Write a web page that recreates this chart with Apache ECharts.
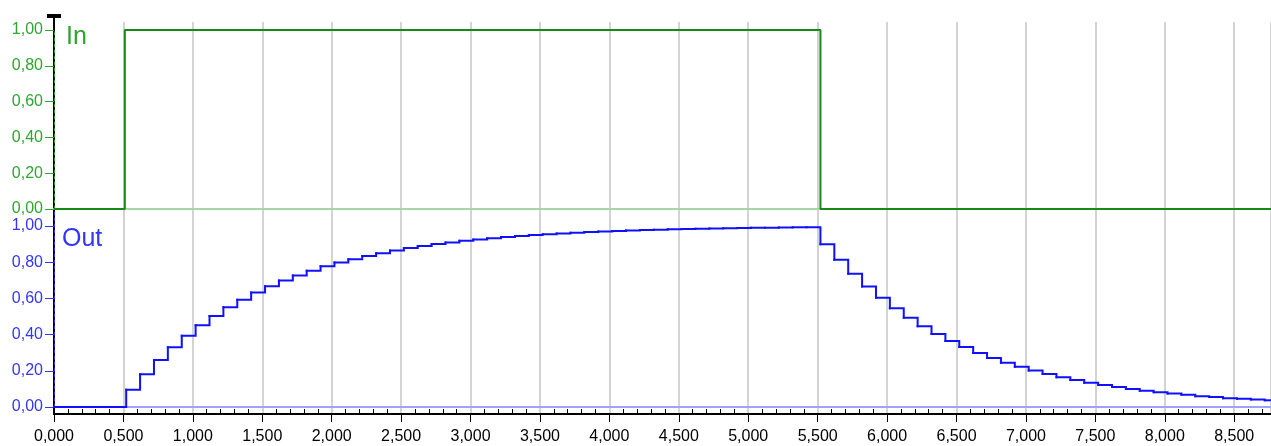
<!DOCTYPE html>
<html><head><meta charset="utf-8">
<script src="https://cdn.jsdelivr.net/npm/echarts@6/dist/echarts.min.js"></script>
<style>html,body{margin:0;padding:0;background:#fff}#c{width:1271px;height:446px}</style>
</head><body><div id="c"></div>
<script>
// ---- data ----
const xMin = 0, xMax = 8.765;
const xMajorStep = 0.5;
const xMinorStep = 0.1;
const yTickValues = [0, 0.2, 0.4, 0.6, 0.8, 1.0];
const yMinorValues = [0.1, 0.3, 0.5, 0.7, 0.9];
const panelNames = ['In', 'Out'];

// "In" step input: times where the level changes, and the levels
const inTimes = [0, 0.51, 5.52, 8.765];
const inValues = [0, 1, 0, 0];

// "Out" sampled response: first sample time and sample period
const outFirstSample = 0.52;
const outSamplePeriod = 0.1;
const outRise = [0.095,0.181,0.259,0.330,0.393,0.451,0.503,0.551,0.593,0.632,
                 0.667,0.699,0.727,0.753,0.777,0.798,0.817,0.835,0.850,0.865,
                 0.878,0.889,0.900,0.909,0.918,0.926,0.933,0.939,0.945,0.950,
                 0.955,0.959,0.963,0.967,0.970,0.973,0.975,0.978,0.980,0.982,
                 0.983,0.985,0.986,0.988,0.989,0.990,0.991,0.992,0.993,0.993];
const outFall = [0.899,0.813,0.736,0.666,0.603,0.545,0.493,0.446,0.404,0.365,
                 0.331,0.299,0.271,0.245,0.222,0.201,0.182,0.164,0.149,0.134,
                 0.122,0.110,0.100,0.090,0.082,0.074,0.067,0.060,0.055,0.049,
                 0.045,0.041,0.037];

// ---- build ----
const inData = inTimes.map((t, i) => [t, inValues[i]]);
const outSamples = outRise.concat(outFall);
const outPts = [[0, 0]].concat(
  outSamples.map((v, i) => [+(outFirstSample + i * outSamplePeriod).toFixed(3), v])
);
// each item: [t, value, next t, next value] -> one step (hold, then jump)
const outSteps = outPts.map((p, i) => {
  const n = outPts[i + 1] || [xMax, p[1]];
  return [p[0], p[1], n[0], n[1]];
});

const xMinorValues = [];
for (let i = 1; xMin + i * xMinorStep < xMax; i++) {
  if (i % 5 !== 0) xMinorValues.push(+(xMin + i * xMinorStep).toFixed(2));
}

const FONT = 'Liberation Sans';
const GREEN_LINE = '#158a15', GREEN_TEXT = '#2fa52f', GREEN_BASE = '#a6d6a6';
const BLUE_LINE = '#1010ff', BLUE_TEXT = '#3535f5', BLUE_BASE = '#9fa3ff';
const fmtX = v => v.toFixed(3).replace('.', ',');
const fmtY = v => v.toFixed(2).replace('.', ',');

const chart = echarts.init(document.getElementById('c'), null, {renderer: 'canvas'});

function panelY(gridIndex, max, color) {
  return [{
    type: 'value', gridIndex, min: 0, max,
    axisLine: {show: true, lineStyle: {color, width: 1, type: [3, 3]}},
    axisTick: {show: true, customValues: yTickValues, length: 9, lineStyle: {color, width: 1}},
    axisLabel: {show: true, customValues: yTickValues, formatter: fmtY, color,
                fontSize: 16, fontFamily: FONT, margin: 11},
    splitLine: {show: false}
  }, {
    type: 'value', gridIndex, min: 0, max,
    axisLine: {show: false},
    axisTick: {show: true, customValues: yMinorValues, length: 4, lineStyle: {color: '#000', width: 1}},
    axisLabel: {show: false},
    splitLine: {show: false}
  }];
}

chart.setOption({
  animation: false,
  backgroundColor: '#fff',
  title: [
    {text: panelNames[0], left: 66, top: 25, padding: 0,
     textStyle: {color: GREEN_TEXT, fontSize: 25, fontWeight: 'normal', fontFamily: FONT}},
    {text: panelNames[1], left: 62, top: 227, padding: 0,
     textStyle: {color: BLUE_TEXT, fontSize: 25, fontWeight: 'normal', fontFamily: FONT}}
  ],
  grid: [
    {left: 54, right: -2, top: 22, bottom: 32},   // frame: gridlines + x axis
    {left: 54, right: -2, top: 22, bottom: 237},  // In panel
    {left: 54, right: -2, top: 209, bottom: 39}   // Out panel
  ],
  xAxis: [
    {type: 'value', gridIndex: 0, min: xMin, max: xMax, interval: xMajorStep,
     axisLine: {show: true, onZero: false, lineStyle: {color: '#000', width: 2}},
     axisTick: {show: true, length: 8, lineStyle: {color: '#000', width: 1}},
     axisLabel: {show: true, formatter: fmtX, color: '#000', fontSize: 16, fontFamily: FONT,
                 margin: 15, showMaxLabel: false},
     splitLine: {show: true, lineStyle: {color: '#d3d3d3', width: 2}}},
    {type: 'value', gridIndex: 0, min: xMin, max: xMax,
     axisLine: {show: false},
     axisTick: {show: true, customValues: xMinorValues, length: 5, lineStyle: {color: '#000', width: 1}},
     axisLabel: {show: false}, splitLine: {show: false}},
    {type: 'value', gridIndex: 1, min: xMin, max: xMax,
     axisLine: {show: true, lineStyle: {color: GREEN_BASE, width: 2}},
     axisTick: {show: false}, axisLabel: {show: false}, splitLine: {show: false}},
    {type: 'value', gridIndex: 2, min: xMin, max: xMax,
     axisLine: {show: true, lineStyle: {color: BLUE_BASE, width: 2}},
     axisTick: {show: false}, axisLabel: {show: false}, splitLine: {show: false}}
  ],
  yAxis: [
    {type: 'value', gridIndex: 0, min: 0, max: 1,
     axisLine: {show: true, symbol: ['none', 'path://M0,0 H14 V4 H8 V16 H6 V4 H0 Z'],
                symbolSize: [14, 16], lineStyle: {color: '#000', width: 2}},
     axisTick: {show: false}, axisLabel: {show: false}, splitLine: {show: false}},
    ...panelY(1, 1.0447, GREEN_TEXT),
    ...panelY(2, 1.094, BLUE_TEXT)
  ],
  series: [
    {name: 'In', type: 'line', xAxisIndex: 2, yAxisIndex: 1, step: 'end',
     data: inData, showSymbol: false, lineStyle: {color: GREEN_LINE, width: 2}, z: 5},
    {name: 'Out', type: 'custom', xAxisIndex: 3, yAxisIndex: 3, z: 5,
     encode: {x: [0, 2], y: [1, 3]},
     data: outSteps,
     renderItem: function (params, api) {
       const t0 = api.value(0), v0 = api.value(1), t1 = api.value(2), v1 = api.value(3);
       const a = api.coord([t0, v0]), b = api.coord([t1, v0]), c = api.coord([t1, v1]);
       return {type: 'polyline', shape: {points: [a, b, c]},
               style: {stroke: BLUE_LINE, lineWidth: 2, fill: null, lineCap: 'square', lineJoin: 'miter'}};
     }}
  ]
});
</script>
</body></html>
